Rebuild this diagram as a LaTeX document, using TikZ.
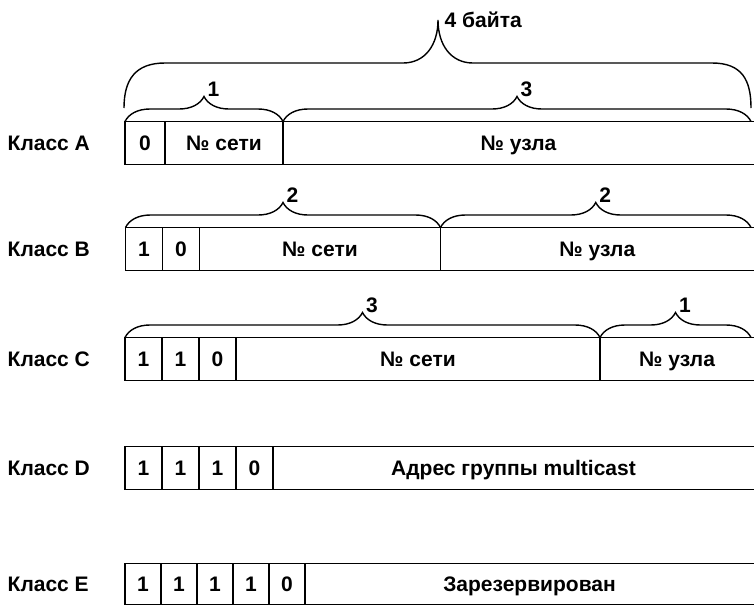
\documentclass[tikz,border=0pt]{standalone}
\usepackage{fontspec}
\setmainfont{Liberation Sans}
\usetikzlibrary{positioning, decorations.pathreplacing}

\begin{document}
\begin{tikzpicture}[x=1pt, y=-1pt, line width=1.4pt,
  every node/.style={font=\fontsize{21}{24}\selectfont\bfseries},
  cls/.style={anchor=west, inner sep=0pt, text height=15pt, text depth=0pt},
  bit/.style={draw, minimum width=37pt, minimum height=43pt, inner sep=0pt, outer sep=0pt,
    text height=15pt, text depth=0pt},
  field/.style={minimum height=43pt, inner sep=0pt, outer sep=0pt, text height=15pt, text depth=0pt},
  bytes/.style={decorate, decoration={brace, amplitude=25pt}},
  cnt/.style={midway, anchor=south west, inner sep=1pt, xshift=2pt, yshift=23pt}]
  \useasboundingbox (0,0) rectangle (754,606);

  % Whole address
  \coordinate (wl) at (124,108);
  \coordinate (wr) at (751,108);
  \coordinate (wt) at (438,20);
  \draw (wl) .. controls (124,80) and (135,63) .. (165,63) -- (403,63)
    .. controls (425,63) and (438,45) .. (wt)
    .. controls (438,45) and (451,63) .. (473,63) -- (712,63)
    .. controls (742,63) and (751,80) .. (wr);
  \node[anchor=west, inner sep=2pt, xshift=4pt] (whole) at (wt) {4 байта};

  % Class A
  \node[cls] (ca) at (7,143) {Класс A};
  \node[bit, minimum width=40pt] (a1) at (145,143) {0};
  \node[bit, minimum width=118pt, right=0pt of a1] (a2) {№ сети};
  \node[field, minimum width=471pt, right=0pt of a2] (a3) {№ узла};
  \draw (a3.north west) -- (a3.north east) (a3.south west) -- (a3.south east);
  \draw[bytes] (a1.north west) -- (a2.north east) node[cnt] {1};
  \draw[bytes] (a2.north east) -- ([xshift=-3pt]a3.north east) node[cnt] {3};

  % Class B
  \node[cls] (cb) at (7,249) {Класс B};
  \node[bit] (b1) at (144,249) {1};
  \node[bit, right=0pt of b1] (b2) {0};
  \node[bit, minimum width=241pt, right=0pt of b2] (b3) {№ сети};
  \node[field, minimum width=313.5pt, right=0pt of b3] (b4) {№ узла};
  \draw (b4.north west) -- (b4.north east) (b4.south west) -- (b4.south east);
  \draw[bytes] (b1.north west) -- (b3.north east) node[cnt] {2};
  \draw[bytes] (b3.north east) -- ([xshift=-3pt]b4.north east) node[cnt] {2};

  % Class C
  \node[cls] (cc) at (7,359) {Класс C};
  \node[bit] (c1) at (143.5,359) {1};
  \node[bit, right=0pt of c1] (c2) {1};
  \node[bit, right=0pt of c2] (c3) {0};
  \node[bit, minimum width=364pt, right=0pt of c3] (c4) {№ сети};
  \node[field, minimum width=154pt, right=0pt of c4] (c5) {№ узла};
  \draw (c5.north west) -- (c5.north east) (c5.south west) -- (c5.south east);
  \draw[bytes] (c1.north west) -- (c4.north east) node[cnt] {3};
  \draw[bytes] (c4.north east) -- ([xshift=-3pt]c5.north east) node[cnt] {1};

  % Class D
  \node[cls] (cd) at (7,468) {Класс D};
  \node[bit] (d1) at (143.5,468) {1};
  \node[bit, right=0pt of d1] (d2) {1};
  \node[bit, right=0pt of d2] (d3) {1};
  \node[bit, right=0pt of d3] (d4) {0};
  \node[field, minimum width=481pt, right=0pt of d4] (d5) {Адрес группы multicast};
  \draw (d5.north west) -- (d5.north east) (d5.south west) -- (d5.south east);

  % Class E
  \node[cls] (ce) at (7,584) {Класс E};
  \node[bit, minimum width=36pt, minimum height=41pt] (e1) at (143,584) {1};
  \node[bit, minimum width=36pt, minimum height=41pt, right=0pt of e1] (e2) {1};
  \node[bit, minimum width=36pt, minimum height=41pt, right=0pt of e2] (e3) {1};
  \node[bit, minimum width=36pt, minimum height=41pt, right=0pt of e3] (e4) {1};
  \node[bit, minimum width=36pt, minimum height=41pt, right=0pt of e4] (e5) {0};
  \node[field, minimum width=449pt, minimum height=41pt, right=0pt of e5] (e6) {Зарезервирован};
  \draw (e6.north west) -- (e6.north east) (e6.south west) -- (e6.south east);
\end{tikzpicture}
\end{document}
